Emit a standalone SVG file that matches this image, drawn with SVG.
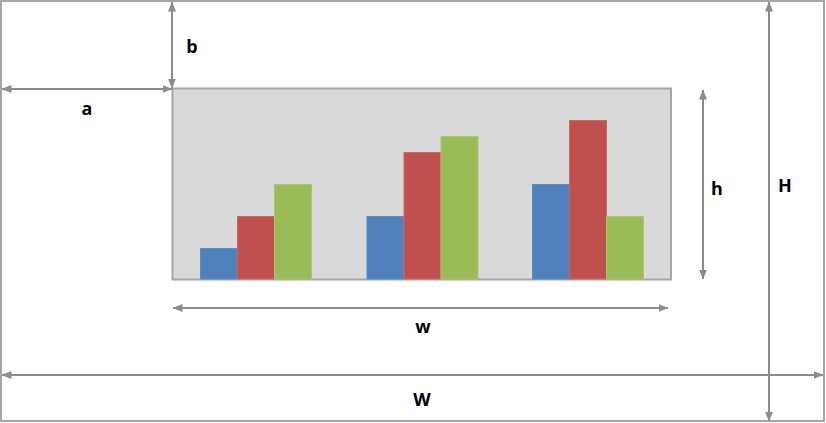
<svg xmlns="http://www.w3.org/2000/svg" width="826" height="423" viewBox="0 0 826 423">
<style>
.dim{stroke:#8c8c8c;stroke-width:2;fill:none;marker-start:url(#ah);marker-end:url(#ah)}
.lbl{font-family:"Open Sans","Liberation Sans",sans-serif;font-weight:bold;font-size:18px;fill:#000;text-anchor:middle}
.bar{stroke-width:1}
.b{fill:#4f81bd;stroke:#5b8cc6}
.r{fill:#c0504d;stroke:#cc6663}
.g{fill:#9bbb59;stroke:#a9c56e}
</style>
<defs>
<marker id="ah" viewBox="0 0 10 8" refX="9.5" refY="4" markerWidth="5" markerHeight="4" orient="auto-start-reverse" markerUnits="strokeWidth">
<path d="M0,0 L10,4 L0,8 Z" fill="#8c8c8c"/>
</marker>
</defs>
<rect x="1" y="1" width="823" height="420" fill="#fff" stroke="#a6a6a6" stroke-width="2"/>
<g id="chart">
<rect x="172.5" y="88.5" width="498.5" height="191" fill="#d9d9d9" stroke="#a6a6a6" stroke-width="2"/>
<rect class="bar b" x="200.5" y="248.5" width="37" height="30.5"/>
<rect class="bar r" x="237.5" y="216.5" width="37" height="62.5"/>
<rect class="bar g" x="274.5" y="184.5" width="37" height="94.5"/>
<rect class="bar b" x="367" y="216.5" width="37" height="62.5"/>
<rect class="bar r" x="404" y="152.5" width="37" height="126.5"/>
<rect class="bar g" x="441" y="136.5" width="37" height="142.5"/>
<rect class="bar b" x="532.5" y="184.5" width="37" height="94.5"/>
<rect class="bar r" x="569.5" y="120.5" width="37" height="158.5"/>
<rect class="bar g" x="606.5" y="216.5" width="37" height="62.5"/>
</g>
<g id="connectors">
<line class="dim" x1="172" y1="2" x2="172" y2="88"/>
<line class="dim" x1="2" y1="89" x2="172" y2="89"/>
<line class="dim" x1="703" y1="90" x2="703" y2="279"/>
<line class="dim" x1="769" y1="2" x2="769" y2="421"/>
<line class="dim" x1="173" y1="308" x2="668" y2="308"/>
<line class="dim" x1="2" y1="375" x2="823" y2="375"/>
</g>
<g id="labels">
<text class="lbl" x="192" y="53">b</text>
<text class="lbl" x="87" y="115">a</text>
<text class="lbl" x="717" y="195">h</text>
<text class="lbl" x="785" y="192">H</text>
<text class="lbl" x="423" y="333">w</text>
<text class="lbl" x="422" y="406">W</text>
</g>
</svg>
